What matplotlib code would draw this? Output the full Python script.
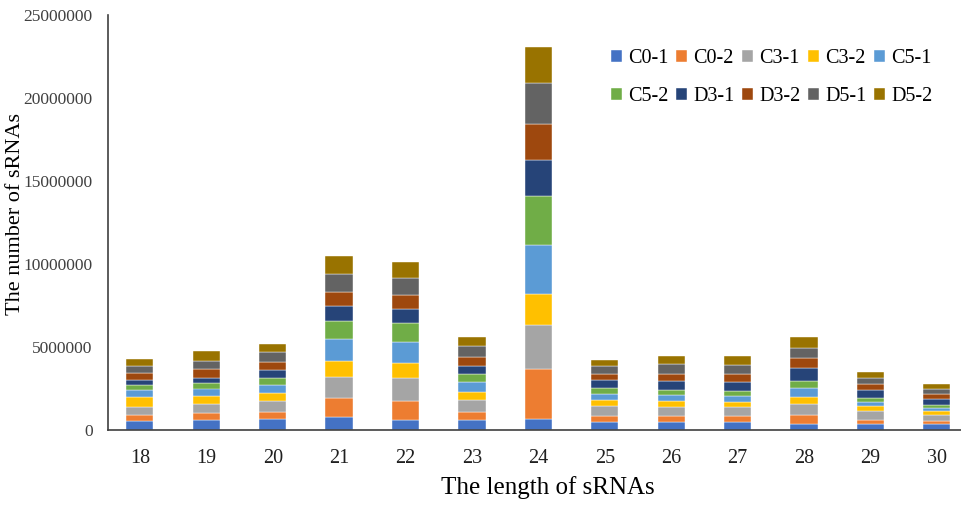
import matplotlib
matplotlib.use("Agg")
import matplotlib.pyplot as plt
import numpy as np

lengths = ["18", "19", "20", "21", "22", "23", "24", "25", "26", "27", "28", "29", "30"]
samples = ["C0-1", "C0-2", "C3-1", "C3-2", "C5-1", "C5-2", "D3-1", "D3-2", "D5-1", "D5-2"]

# read counts per sample, one entry per sRNA length 18..30
c0_1 = [560000, 600000, 640000, 765000, 620000, 600000, 660000, 500000, 500000, 480000, 360000, 340000, 360000]
c0_2 = [320000, 400000, 440000, 1190000, 1125000, 500000, 3010000, 360000, 360000, 360000, 520000, 260000, 180000]
c3_1 = [520000, 560000, 640000, 1265000, 1405000, 705000, 2670000, 600000, 520000, 540000, 680000, 540000, 360000]
c3_2 = [560000, 480000, 500000, 965000, 860000, 500000, 1825000, 340000, 340000, 280000, 420000, 320000, 240000]
c5_1 = [440000, 460000, 500000, 1280000, 1310000, 560000, 2970000, 380000, 360000, 360000, 540000, 240000, 180000]
c5_2 = [300000, 340000, 440000, 1085000, 1100000, 500000, 2950000, 360000, 340000, 300000, 420000, 240000, 180000]
d3_1 = [300000, 320000, 440000, 905000, 845000, 520000, 2170000, 460000, 520000, 560000, 825000, 480000, 380000]
d3_2 = [440000, 500000, 480000, 860000, 845000, 540000, 2170000, 400000, 440000, 500000, 580000, 360000, 260000]
d5_1 = [400000, 500000, 600000, 1100000, 1040000, 620000, 2450000, 460000, 580000, 540000, 620000, 360000, 300000]
d5_2 = [460000, 580000, 520000, 1085000, 965000, 560000, 2210000, 380000, 520000, 560000, 640000, 380000, 320000]

series = [c0_1, c0_2, c3_1, c3_2, c5_1, c5_2, d3_1, d3_2, d5_1, d5_2]
colors = ["#4472C4", "#ED7D31", "#A5A5A5", "#FFC000", "#5B9BD5",
          "#70AD47", "#264478", "#9E480E", "#636363", "#997300"]

plt.rcParams["font.family"] = ["Liberation Serif", "DejaVu Serif"]

fig = plt.figure(figsize=(9.62, 5.05), dpi=100)
ax = fig.add_axes([108 / 962, 75 / 505, 854 / 962, 415 / 505])

x = np.arange(len(lengths))
bottom = np.zeros(len(lengths))
handles = []
for name, vals, col in zip(samples, series, colors):
    h = ax.bar(x, vals, width=0.41, bottom=bottom, color=col, label=name,
               edgecolor="white", linewidth=0.3)
    handles.append(h)
    bottom += np.array(vals)

ax.set_xlim(-0.48, 12.38)
ax.set_ylim(0, 25000000)
ax.set_yticks(np.arange(0, 25000001, 5000000))
ax.set_yticklabels([str(v) for v in range(0, 25000001, 5000000)])
ax.set_xticks(x)
ax.set_xticklabels(lengths)
ax.tick_params(axis="y", length=0, labelsize=12.5, pad=11, colors="#404040")
ax.tick_params(axis="x", length=0, labelsize=14.5, pad=14, colors="#202020")
for s in ["top", "right"]:
    ax.spines[s].set_visible(False)
for s in ["left", "bottom"]:
    ax.spines[s].set_color("#404040")
    ax.spines[s].set_linewidth(1.2)

ax.set_xlabel("The length of sRNAs", fontsize=18)
ax.set_ylabel("The number of sRNAs", fontsize=16)
ax.xaxis.set_label_coords((548 - 108) / 854, -(476 - 430) / 415)
ax.yaxis.set_label_coords(-(108 - 25) / 854, (430 - 214) / 415)

# legend laid out row by row: matplotlib fills columns first, so reorder
order = [0, 5, 1, 6, 2, 7, 3, 8, 4, 9]
ax.legend([handles[i] for i in order], [samples[i] for i in order],
          ncol=5, loc="upper right", bbox_to_anchor=(0.987, 0.962), frameon=False,
          fontsize=14.5, handlelength=0.55, handleheight=0.55, handletextpad=0.3,
          columnspacing=0.38, labelspacing=0.95)

fig.savefig("out.png", dpi=100)
